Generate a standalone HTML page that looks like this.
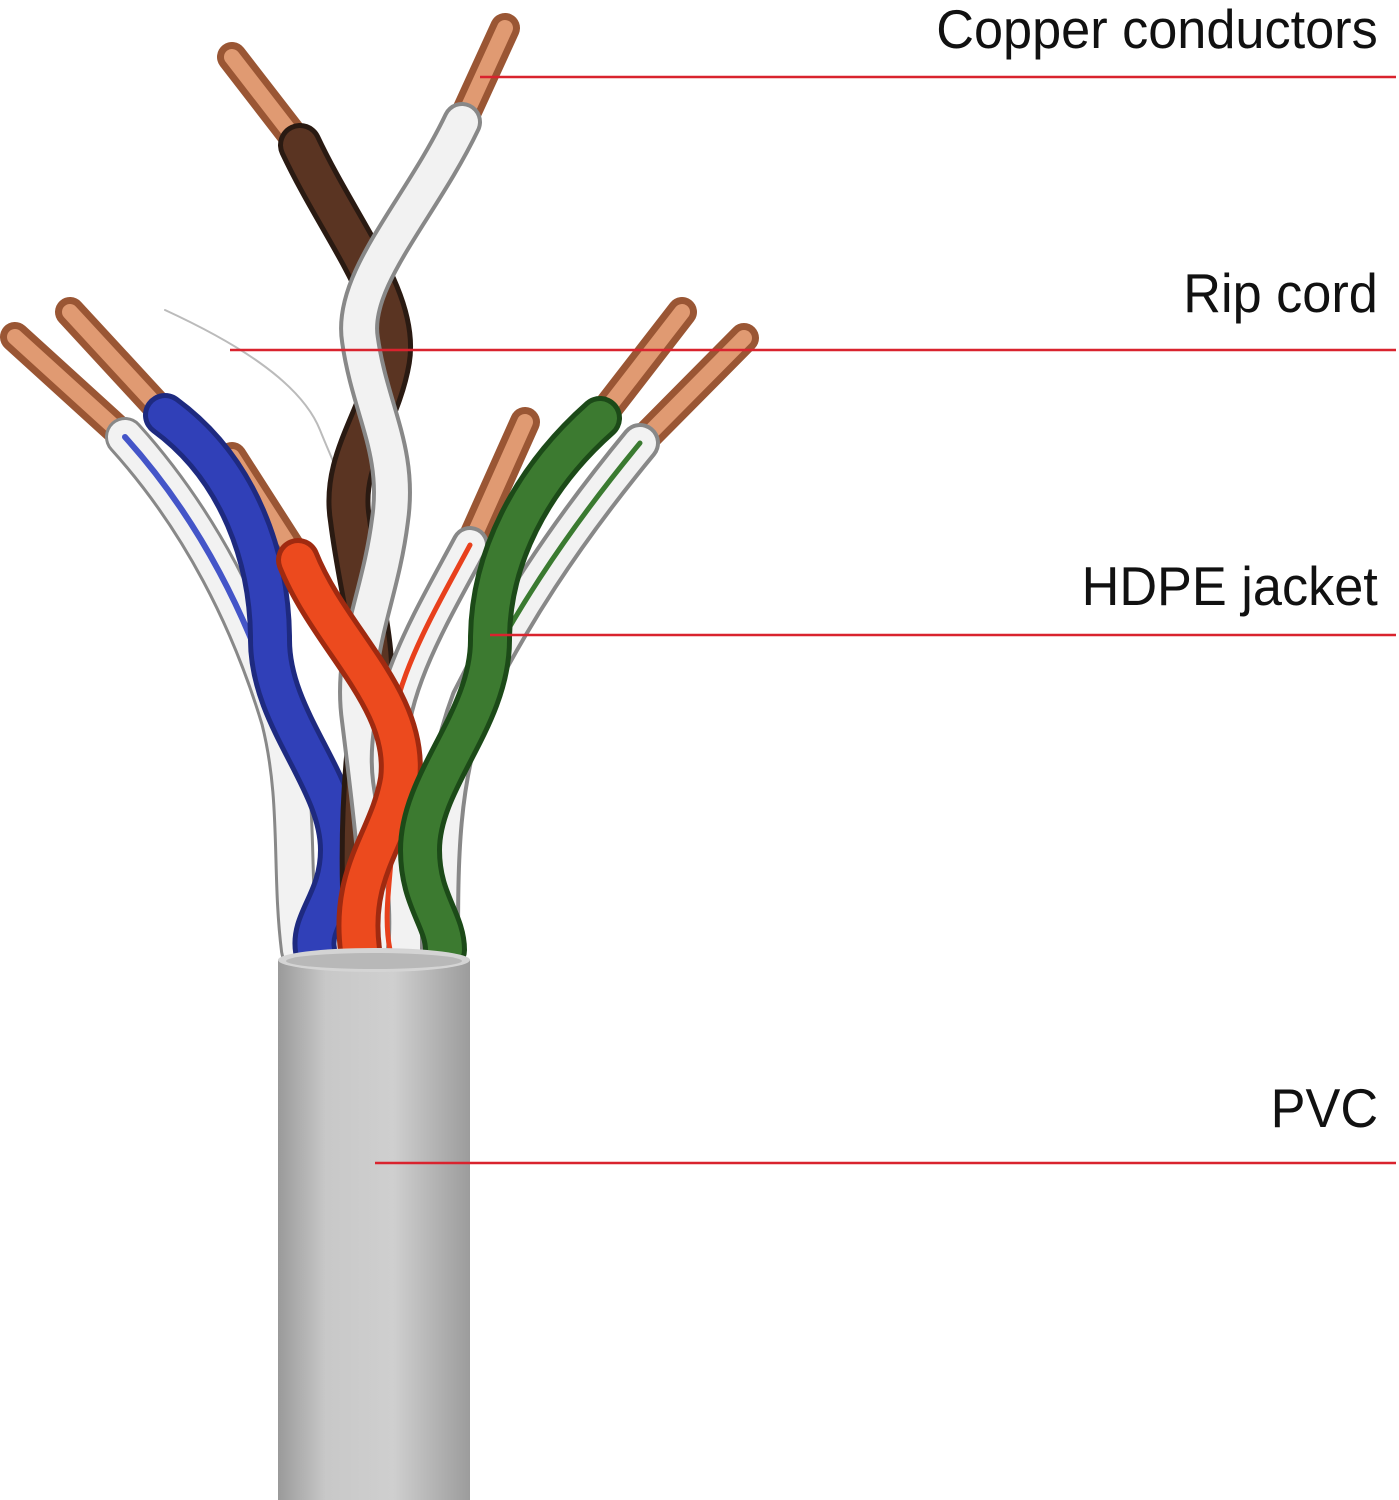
<!DOCTYPE html>
<html><head><meta charset="utf-8"><style>
html,body{margin:0;padding:0;background:#fff;}
body{width:1399px;height:1500px;overflow:hidden;position:relative;}
svg{position:absolute;left:0;top:0;}
.lbl{position:absolute;right:21px;font-family:"Liberation Sans Narrow","Liberation Sans",sans-serif;font-size:55px;color:#111;white-space:nowrap;line-height:1;transform:scaleX(0.95);transform-origin:right center;}
</style></head><body>
<svg width="1399" height="1500" viewBox="0 0 1399 1500">
<defs>
<linearGradient id="jk" x1="0" y1="0" x2="1" y2="0">
<stop offset="0" stop-color="#9a9a9a"/><stop offset="0.25" stop-color="#c8c8c8"/><stop offset="0.6" stop-color="#cfcfcf"/><stop offset="1" stop-color="#9c9c9c"/></linearGradient>
</defs>
<g fill="none" stroke-linecap="round">
<path d="M165 310 C230 340 300 380 320 430 C340 480 355 500 350 560" stroke="#bbb" stroke-width="2"/>
<g stroke="#9a5634" stroke-width="30"><path d="M232 57 L300 145"/><path d="M505 28 L462 122"/><path d="M15 337 L125 437"/><path d="M70 312 L165 415"/><path d="M232 457 L298 560"/><path d="M525 422 L470 545"/><path d="M682 312 L600 418"/><path d="M744 338 L640 443"/></g>
<g stroke="#e09a72" stroke-width="16"><path d="M232 57 L300 145"/><path d="M505 28 L462 122"/><path d="M15 337 L125 437"/><path d="M70 312 L165 415"/><path d="M232 457 L298 560"/><path d="M525 422 L470 545"/><path d="M682 312 L600 418"/><path d="M744 338 L640 443"/></g>
<path d="M125 437 C200 520 250 620 280 720 C300 800 290 870 300 950" stroke="#888" stroke-width="40"/>
<path d="M125 437 C200 520 250 620 280 720 C300 800 290 870 300 950" stroke="#f2f2f2" stroke-width="34"/>
<path d="M125 437 C200 520 250 620 280 720" stroke="#4455c8" stroke-width="6"/>
<path d="M165 415 C240 470 270 560 270 640 C270 720 340 780 340 850 C340 900 310 920 315 950" stroke="#1e2a80" stroke-width="44"/>
<path d="M165 415 C240 470 270 560 270 640 C270 720 340 780 340 850 C340 900 310 920 315 950" stroke="#3040b8" stroke-width="34"/>
<path d="M300 145 C340 230 400 300 390 360 C380 420 340 460 350 520 C360 600 380 650 370 720 C360 800 360 880 365 950" stroke="#2a1a12" stroke-width="44"/>
<path d="M300 145 C340 230 400 300 390 360 C380 420 340 460 350 520 C360 600 380 650 370 720 C360 800 360 880 365 950" stroke="#5a3422" stroke-width="34"/>
<path d="M462 122 C420 210 350 280 360 340 C370 410 400 450 390 520 C380 600 350 650 360 720 C370 800 380 880 380 950" stroke="#888" stroke-width="40"/>
<path d="M462 122 C420 210 350 280 360 340 C370 410 400 450 390 520 C380 600 350 650 360 720 C370 800 380 880 380 950" stroke="#f2f2f2" stroke-width="32"/>
<path d="M470 545 C430 620 380 700 390 780 C400 850 410 900 405 950" stroke="#888" stroke-width="38"/>
<path d="M470 545 C430 620 380 700 390 780 C400 850 410 900 405 950" stroke="#f2f2f2" stroke-width="30"/>
<path d="M470 545 C430 620 380 700 390 780 C400 850 380 900 390 950" stroke="#e8401c" stroke-width="5"/>
<path d="M298 560 C330 640 410 700 400 780 C390 840 350 870 360 950" stroke="#a02a10" stroke-width="44"/>
<path d="M298 560 C330 640 410 700 400 780 C390 840 350 870 360 950" stroke="#ec4a1e" stroke-width="34"/>
<path d="M640 443 C560 540 510 620 470 700 C440 780 440 860 440 950" stroke="#888" stroke-width="40"/>
<path d="M640 443 C560 540 510 620 470 700 C440 780 440 860 440 950" stroke="#f2f2f2" stroke-width="32"/>
<path d="M640 443 C560 540 510 620 470 700" stroke="#3a7a30" stroke-width="5"/>
<path d="M600 418 C530 480 490 560 490 640 C490 720 420 780 420 850 C420 900 445 920 445 950" stroke="#1c4a18" stroke-width="44"/>
<path d="M600 418 C530 480 490 560 490 640 C490 720 420 780 420 850 C420 900 445 920 445 950" stroke="#3c7a30" stroke-width="34"/>
</g>
<rect x="278" y="960" width="192" height="540" fill="url(#jk)"/>
<ellipse cx="374" cy="960" rx="96" ry="12" fill="#d4d4d4"/>
<ellipse cx="374" cy="961" rx="88" ry="8" fill="#b8b8b8"/>
<g stroke="#d9232e" stroke-width="2.5">
<line x1="480" y1="77" x2="1396" y2="77"/>
<line x1="230" y1="350" x2="1396" y2="350"/>
<line x1="490" y1="635" x2="1396" y2="635"/>
<line x1="375" y1="1163" x2="1396" y2="1163"/>
</g>
</svg>
<div class="lbl" style="top:2px">Copper conductors</div>
<div class="lbl" style="top:266px">Rip cord</div>
<div class="lbl" style="top:559px">HDPE jacket</div>
<div class="lbl" style="top:1081px">PVC</div>
</body></html>
